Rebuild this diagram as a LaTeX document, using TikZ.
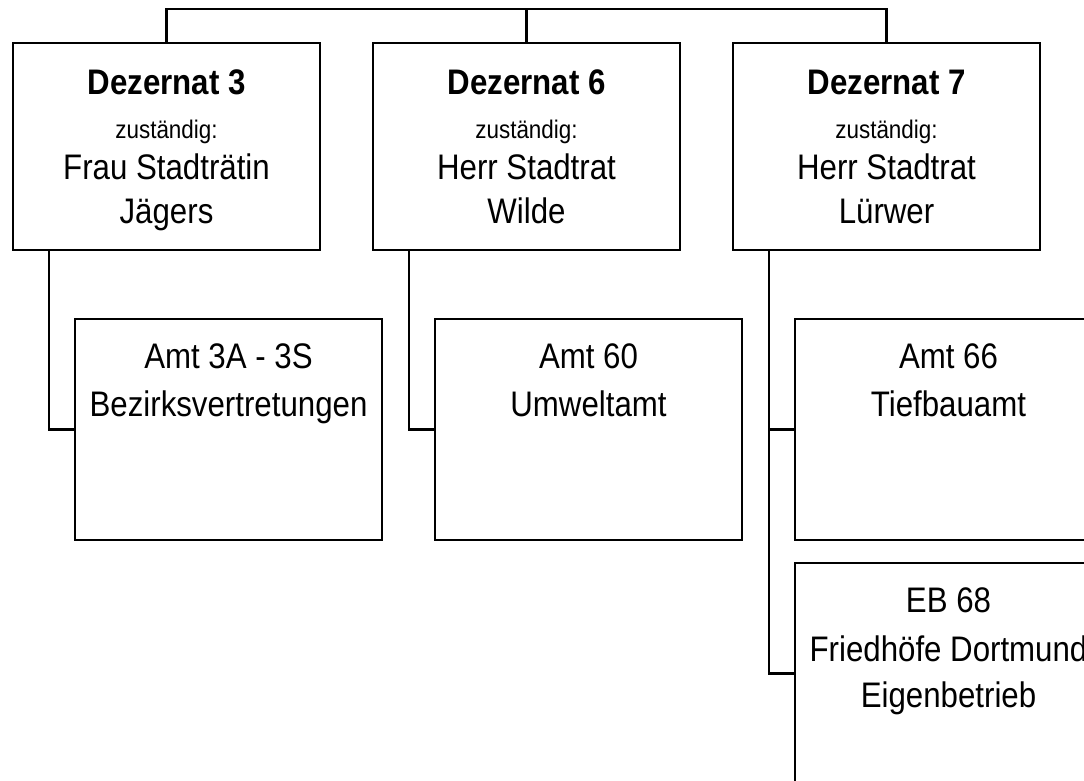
\documentclass[tikz,border=0pt]{standalone}
\usepackage{fontspec}
\setmainfont{Liberation Sans}
\newfontfamily\narrowfont[FakeStretch=0.88]{Liberation Sans}
\begin{document}
\begin{tikzpicture}[x=1pt,y=-1pt,
  box/.style={draw,line width=2.2pt,rectangle,inner sep=0pt,minimum width=307pt},
  dezbox/.style={box,minimum height=207pt},
  amtbox/.style={box,minimum height=221pt},
  big/.style={anchor=base,inner sep=0pt,font=\narrowfont\fontsize{35.5}{40}\selectfont},
  bigb/.style={big,font=\narrowfont\fontsize{35.5}{40}\selectfont\bfseries},
  small/.style={anchor=base,inner sep=0pt,font=\narrowfont\fontsize{25.5}{30}\selectfont},
  conn/.style={line width=2.2pt}]
\useasboundingbox (0,0) rectangle (1084,781);
\clip (0,0) rectangle (1084,781);
% Dezernat boxes
\node[dezbox] (d3) at (166.5,146.5) {};
\node[dezbox] (d6) at (526.5,146.5) {};
\node[dezbox] (d7) at (886.5,146.5) {};
% Amt boxes
\node[amtbox] (a3) at (228.5,429.5) {};
\node[amtbox] (a60) at (588.5,429.5) {};
\node[amtbox] (a66) at (948.5,429.5) {};
\node[amtbox] (eb) at (948.5,673.5) {};
% texts Dezernat 3
\node[bigb] (d3t1) at (166.5,95) {Dezernat 3};
\node[small] (d3t2) at (166.5,139) {zuständig:};
\node[big] (d3t3) at (166.5,179) {Frau Stadträtin};
\node[big] (d3t4) at (166.5,223) {Jägers};
% Dezernat 6
\node[bigb] (d6t1) at (526.5,95) {Dezernat 6};
\node[small] (d6t2) at (526.5,139) {zuständig:};
\node[big] (d6t3) at (526.5,179) {Herr Stadtrat};
\node[big] (d6t4) at (526.5,223) {Wilde};
% Dezernat 7
\node[bigb] (d7t1) at (886.5,95) {Dezernat 7};
\node[small] (d7t2) at (886.5,139) {zuständig:};
\node[big] (d7t3) at (886.5,179) {Herr Stadtrat};
\node[big] (d7t4) at (886.5,223) {Lürwer};
% Amt texts
\node[big] (a3t1) at (228.5,368) {Amt 3A - 3S};
\node[big] (a3t2) at (228.5,416) {Bezirksvertretungen};
\node[big] (a60t1) at (588.5,368) {Amt 60};
\node[big] (a60t2) at (588.5,416) {Umweltamt};
\node[big] (a66t1) at (948.5,368) {Amt 66};
\node[big] (a66t2) at (948.5,416) {Tiefbauamt};
\node[big] (ebt1) at (948.5,612) {EB 68};
\node[big] (ebt2) at (948.5,661) {Friedhöfe Dortmund};
\node[big] (ebt3) at (948.5,707) {Eigenbetrieb};
% connectors
\coordinate (bus) at (0,9);
\coordinate (s3) at ([xshift=37pt]d3.south west);
\coordinate (s6) at ([xshift=37pt]d6.south west);
\coordinate (s7) at ([xshift=37pt]d7.south west);
\draw[conn] (d3.north) |- (d7.north |- bus) -- (d7.north);
\draw[conn] (d6.north) -- (d6.north |- bus);
\draw[conn] (s3) |- (a3.west);
\draw[conn] (s6) |- (a60.west);
\draw[conn] (s7) |- (eb.west);
\draw[conn] (a66.west) -- (a66.west -| s7);
\end{tikzpicture}
\end{document}
